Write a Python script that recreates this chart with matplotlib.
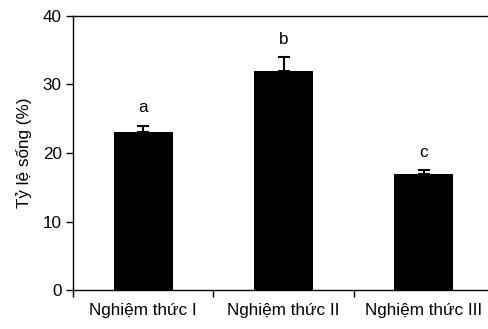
import matplotlib
matplotlib.use('Agg')
import matplotlib.pyplot as plt

treatments = ["Nghiệm thức I", "Nghiệm thức II", "Nghiệm thức III"]
survival = [23.0, 32.0, 17.0]
errors = [1.0, 2.0, 0.5]
letters = ["a", "b", "c"]

plt.rcParams['font.family'] = ['Liberation Sans', 'DejaVu Sans']
fs = 12.3

fig = plt.figure(figsize=(4.88, 3.29), dpi=100)
# right edge of the axes sits just past the picture edge, as in the original
ax = fig.add_axes([73 / 488, 39 / 329, 421 / 488, 274 / 329])

x = [0, 1, 2]
ax.bar(x, survival, width=0.42, color='black', zorder=2)
ax.errorbar(x, survival, yerr=[[0, 0, 0], errors], fmt='none', ecolor='black',
            elinewidth=1.5, capsize=4, capthick=1.5, zorder=1)
for xi, v, e, lab in zip(x, survival, errors, letters):
    ax.text(xi, v + e + 1.5, lab, ha='center', va='bottom', fontsize=fs)

ax.set_xlim(-0.5, 2.5)
ax.set_ylim(0, 40)
ax.set_yticks([0, 10, 20, 30, 40])
ax.set_xticks([-0.5, 0.5, 1.5, 2.5])
ax.set_xticklabels([])
ax.set_xticks(x, minor=True)
ax.set_xticklabels(treatments, minor=True)
ax.tick_params(axis='x', which='minor', length=0, pad=9, labelsize=fs)
ax.tick_params(axis='x', which='major', direction='out', length=5, width=1)
ax.tick_params(axis='y', direction='out', length=5, width=1, labelsize=fs, pad=3)
ax.set_ylabel("Tỷ lệ sống (%)", fontsize=fs, labelpad=8)
for s in ax.spines.values():
    s.set_linewidth(1)
ax.spines['right'].set_visible(False)

fig.savefig("out.png", dpi=100)
